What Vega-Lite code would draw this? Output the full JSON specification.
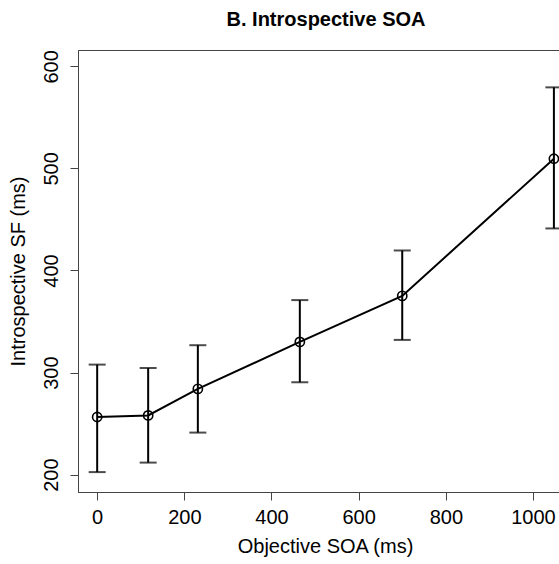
{
  "$schema": "https://vega.github.io/schema/vega-lite/v6.json",
  "autosize": {"type": "none"},
  "padding": {"left": 78, "top": 50, "right": 0, "bottom": 72},
  "width": 482,
  "height": 442,
  "background": "white",
  "title": {
    "text": "B. Introspective SOA",
    "font": "Liberation Sans",
    "fontSize": 20,
    "fontWeight": "bold",
    "color": "black",
    "anchor": "middle",
    "dx": 7,
    "baseline": "alphabetic",
    "offset": 4
  },
  "config": {
    "view": {"stroke": "#444", "strokeWidth": 1},
    "axis": {
      "grid": false,
      "domainColor": "#444",
      "tickColor": "#444",
      "tickSize": 8,
      "labelFont": "Liberation Sans",
      "labelFontSize": 20,
      "labelColor": "black",
      "titleFont": "Liberation Sans",
      "titleFontSize": 20,
      "titleFontWeight": "normal",
      "titleColor": "black"
    }
  },
  "data": {
    "values": [
      {"soa": 0, "sf": 256.5, "lo": 202.5, "hi": 307.8},
      {"soa": 117, "sf": 258, "lo": 211.8, "hi": 304.5},
      {"soa": 231, "sf": 284, "lo": 241.2, "hi": 326.8},
      {"soa": 465, "sf": 330, "lo": 290.5, "hi": 371},
      {"soa": 700, "sf": 375.1, "lo": 332, "hi": 419.6},
      {"soa": 1048, "sf": 509.5, "lo": 441.2, "hi": 579.4}
    ]
  },
  "encoding": {
    "x": {
      "field": "soa",
      "type": "quantitative",
      "scale": {"domain": [-44, 1062], "nice": false, "zero": false},
      "axis": {
        "values": [0, 200, 400, 600, 800, 1000],
        "format": "d",
        "title": "Objective SOA (ms)",
        "labelPadding": 7,
        "titlePadding": 9,
        "titleX": 247
      }
    }
  },
  "layer": [
    {
      "mark": {"type": "line", "color": "black", "strokeWidth": 2},
      "encoding": {
        "y": {
          "field": "sf",
          "type": "quantitative",
          "scale": {"domain": [183, 616], "nice": false, "zero": false},
          "axis": {
            "values": [200, 300, 400, 500, 600],
            "title": "Introspective SF (ms)",
            "labelAngle": -90,
            "labelAlign": "center",
            "labelBaseline": "bottom",
            "labelPadding": 9,
            "titlePadding": 13
          }
        }
      }
    },
    {
      "mark": {"type": "rule", "color": "black", "strokeWidth": 2},
      "encoding": {
        "y": {"field": "lo", "type": "quantitative"},
        "y2": {"field": "hi"}
      }
    },
    {
      "mark": {"type": "tick", "orient": "horizontal", "color": "black", "size": 17, "thickness": 2},
      "encoding": {"y": {"field": "lo", "type": "quantitative"}}
    },
    {
      "mark": {"type": "tick", "orient": "horizontal", "color": "black", "size": 17, "thickness": 2},
      "encoding": {"y": {"field": "hi", "type": "quantitative"}}
    },
    {
      "mark": {"type": "point", "shape": "circle", "filled": false, "color": "black", "size": 85, "strokeWidth": 1.6, "opacity": 1},
      "encoding": {"y": {"field": "sf", "type": "quantitative"}}
    }
  ]
}
